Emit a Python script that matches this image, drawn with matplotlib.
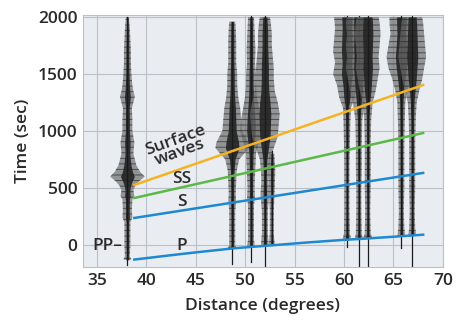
import numpy as np
import matplotlib.pyplot as plt

plt.rcParams['font.family'] = ['Open Sans', 'DejaVu Sans']
plt.rcParams['hatch.linewidth'] = 0.7

# travel-time curves (distance in degrees, time in sec)
p_dist = [38.8, 42, 45, 49, 52, 56, 60, 62, 66, 68]
p_time = [-128, -95, -65, -28, -8, 20, 45, 55, 78, 90]
s_dist = [38.8, 68]
s_time = [237, 632]
ss_dist = [38.8, 68]
ss_time = [412, 982]
surf_dist = [38.8, 68]
surf_time = [526, 1403]

# seismogram traces: station distance, start/end of trace, envelope (time, half width in degrees)
stations = [38.1, 48.7, 50.6, 52.0, 52.7, 60.3, 61.5, 62.4, 65.8, 66.9]
trace_start = [-180, -165, -150, -185, 0, -20, -185, -190, -30, -190]
trace_end = [2000, 1960, 2015, 2015, 820, 2015, 2015, 2015, 2015, 2015]
env_t = [
    [-130, -100, 0, 100, 200, 240, 300, 400, 430, 480, 520, 560, 600, 640, 700, 800, 900, 1000,
     1100, 1200, 1300, 1350, 1400, 1500, 1600, 1700, 1800, 1900, 2000],
    [-30, 0, 100, 200, 300, 380, 450, 550, 650, 750, 800, 850, 900, 950, 1000, 1100, 1200, 1300,
     1400, 1500, 1600, 1700, 1800, 1900, 1960],
    [-15, 50, 150, 250, 350, 420, 500, 600, 700, 800, 900, 1000, 1100, 1200, 1300, 1400, 1500,
     1600, 1700, 1800, 1900, 2000],
    [0, 100, 200, 300, 440, 550, 650, 750, 850, 950, 1050, 1150, 1250, 1350, 1450, 1550, 1650,
     1750, 1850, 1950, 2000],
    [0, 100, 300, 500, 650, 800],
    [45, 100, 300, 500, 700, 900, 1100, 1200, 1300, 1400, 1500, 1600, 1700, 1800, 1900, 2000],
    [55, 100, 300, 500, 700, 900, 1100, 1250, 1350, 1450, 1550, 1650, 1750, 1850, 1950, 2000],
    [60, 100, 300, 500, 700, 900, 1100, 1250, 1350, 1450, 1550, 1650, 1750, 1850, 1950, 2000],
    [75, 150, 300, 500, 700, 900, 1100, 1250, 1350, 1450, 1550, 1650, 1750, 1850, 1950, 2000],
    [85, 150, 300, 500, 700, 900, 1100, 1250, 1350, 1450, 1550, 1650, 1750, 1850, 1950, 2000],
]
env_w = [
    [0.4, 0.25, 0.3, 0.3, 0.3, 0.5, 0.45, 0.5, 0.7, 0.6, 0.8, 1.2, 1.75, 1.3, 0.9, 0.6, 0.7, 0.5,
     0.5, 0.45, 0.75, 0.6, 0.5, 0.4, 0.35, 0.35, 0.3, 0.25, 0.15],
    [0.45, 0.3, 0.3, 0.3, 0.3, 0.4, 0.35, 0.4, 0.45, 0.7, 1.2, 1.7, 1.6, 1.3, 1.0, 0.9, 0.8, 0.6,
     0.5, 0.5, 0.4, 0.4, 0.4, 0.35, 0.3],
    [0.4, 0.3, 0.3, 0.3, 0.3, 0.4, 0.35, 0.4, 0.45, 0.5, 0.8, 1.1, 1.0, 0.8, 0.6, 0.5, 0.5,
     0.4, 0.45, 0.4, 0.35, 0.3],
    [0.4, 0.3, 0.3, 0.3, 0.45, 0.35, 0.4, 0.5, 0.9, 1.3, 1.4, 1.5, 1.3, 1.0, 0.9, 0.9, 0.8,
     0.7, 0.7, 0.6, 0.5],
    [0.3, 0.2, 0.2, 0.3, 0.35, 0.25],
    [0.45, 0.3, 0.25, 0.25, 0.25, 0.3, 0.35, 0.4, 0.8, 1.0, 1.4, 1.2, 1.4, 1.3, 1.2, 1.3],
    [0.4, 0.3, 0.25, 0.25, 0.3, 0.3, 0.35, 0.6, 0.9, 1.1, 1.3, 1.2, 1.3, 1.2, 1.3, 1.2],
    [0.45, 0.3, 0.25, 0.3, 0.3, 0.3, 0.35, 0.5, 0.8, 1.0, 1.2, 1.1, 1.2, 1.3, 1.2, 1.1],
    [0.4, 0.3, 0.25, 0.3, 0.3, 0.3, 0.35, 0.4, 0.6, 0.9, 1.3, 1.5, 1.3, 1.1, 1.2, 1.2],
    [0.4, 0.3, 0.25, 0.3, 0.3, 0.3, 0.35, 0.45, 0.7, 1.0, 1.2, 1.4, 1.3, 1.2, 1.1, 1.0],
]

fig = plt.figure(figsize=(4.58, 3.24), dpi=100)
ax = fig.add_axes([0.181, 0.176, 0.786, 0.778])
ax.set_facecolor('#e9edf2')

for x0, t0, t1, ts, ws in zip(stations, trace_start, trace_end, env_t, env_w):
    ts = np.array(ts)
    ws = np.array(ws)
    ax.fill_betweenx(ts, x0 - ws, x0 + ws, facecolor='#6e6e6e', alpha=0.7,
                     edgecolor='#2e2e2e', hatch='---', lw=0, zorder=2)
    ax.fill_betweenx(ts, x0 - 0.4 * ws, x0 + 0.4 * ws, color='#222222', alpha=0.9, lw=0, zorder=2)
    ax.plot([x0, x0], [t0, t1], color='#1a1a1a', lw=0.9, zorder=2)

ax.plot(p_dist, p_time, color='#1e88d0', lw=1.8, zorder=3)
ax.plot(s_dist, s_time, color='#1e88d0', lw=1.8, zorder=3)
ax.plot(ss_dist, ss_time, color='#5cb848', lw=1.8, zorder=3)
ax.plot(surf_dist, surf_time, color='#f5b324', lw=1.8, zorder=3)

txt = dict(fontsize=12.5, color='#2a2a2a', fontweight='semibold')
ax.text(37.6, -10, 'PP–', ha='right', va='center', zorder=4, **txt)
ax.text(43.6, -5, 'P', ha='center', va='center', zorder=4, **txt)
ax.text(43.6, 380, 'S', ha='center', va='center', zorder=4, **txt)
ax.text(43.6, 575, 'SS', ha='center', va='center', zorder=4, **txt)
ax.text(43.2, 865, 'Surface\nwaves', ha='center', va='center', rotation=20,
        linespacing=0.8, zorder=4, **txt)

ax.set_xlim(33.6, 70)
ax.set_ylim(-193, 2018)
ax.set_xticks([35, 40, 45, 50, 55, 60, 65, 70])
ax.set_yticks([0, 500, 1000, 1500, 2000])
ax.grid(True, color='#b9c0c8', lw=0.8)
ax.set_axisbelow(True)
for s in ax.spines.values():
    s.set_color('#b9c0c8')
    s.set_linewidth(0.8)
ax.tick_params(length=0, labelsize=12.5, colors='#2a2a2a', pad=4)
for lbl in ax.get_xticklabels() + ax.get_yticklabels():
    lbl.set_fontweight('semibold')
ax.set_xlabel('Distance (degrees)', labelpad=7, **txt)
ax.set_ylabel('Time (sec)', labelpad=5, **txt)

fig.savefig('out.png', dpi=100)
